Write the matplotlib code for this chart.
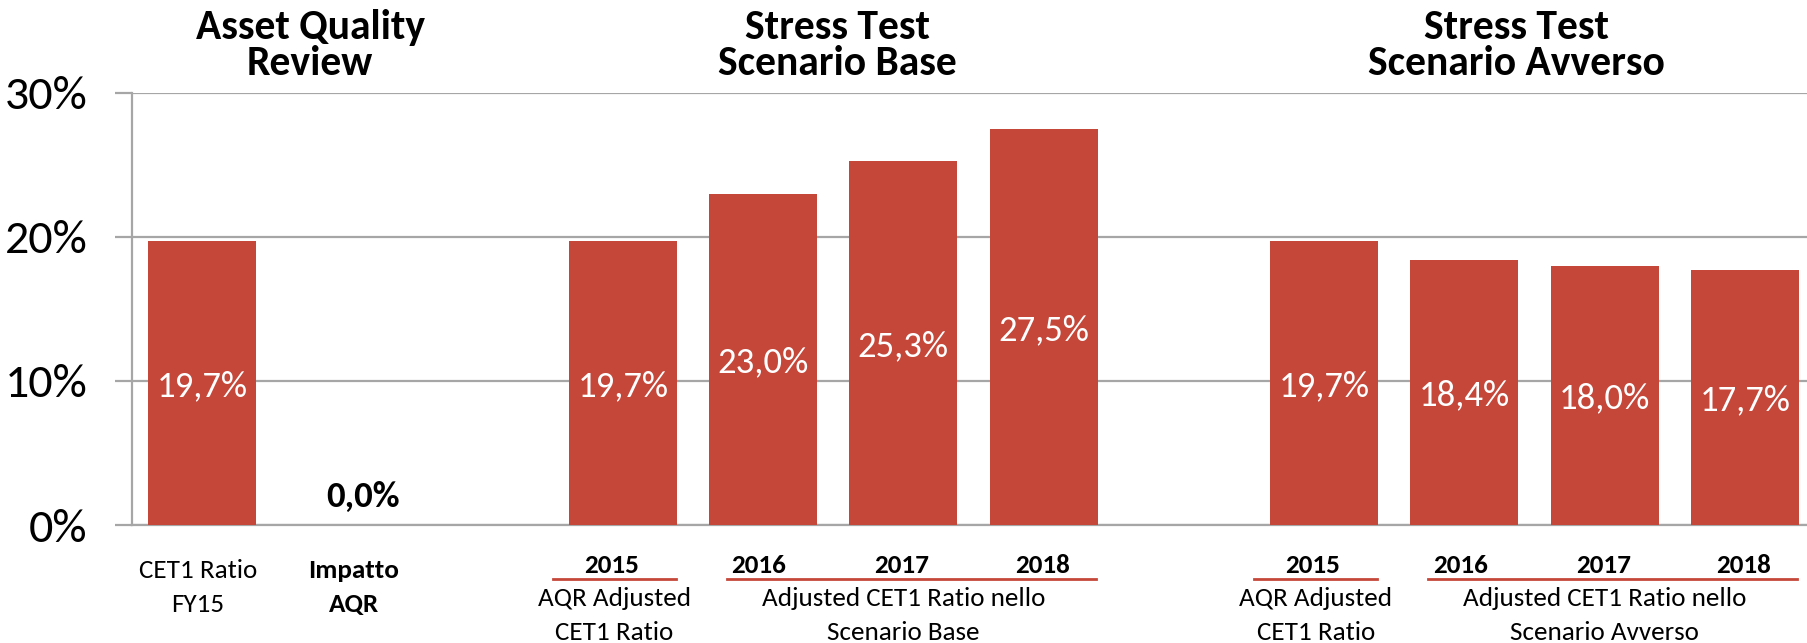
import matplotlib
matplotlib.use("Agg")
import matplotlib.pyplot as plt
import numpy as np

plt.rcParams['font.family'] = ['Carlito', 'DejaVu Sans']

### data
group_titles = ["Asset Quality\nReview", "Stress Test\nScenario Base", "Stress Test\nScenario Avverso"]
aqr_labels = ["CET1 Ratio\nFY15", "Impatto\nAQR"]
aqr_vals = [19.7, 0.0]
years = ["2015", "2016", "2017", "2018"]
base_vals = [19.7, 23.0, 25.3, 27.5]
avv_vals = [19.7, 18.4, 18.0, 17.7]
first_sub = "AQR Adjusted\nCET1 Ratio"
rest_sub = ["Adjusted CET1 Ratio nello\nScenario Base", "Adjusted CET1 Ratio nello\nScenario Avverso"]
yticks = [0, 10, 20, 30]

red = "#C5473A"
grey = "#A6A6A6"

### slot positions (one empty slot between groups)
x_aqr = np.arange(len(aqr_vals))
x_base = np.arange(len(base_vals)) + x_aqr[-1] + 2
x_avv = np.arange(len(avv_vals)) + x_base[-1] + 2

fig = plt.figure(figsize=(18.08, 6.43), dpi=100)
ax = fig.add_axes([0.073, 0.1835, 0.927, 0.672])

def fmt(v):
    return ("%.1f%%" % v).replace(".", ",")

for xs, vs in [(x_aqr, aqr_vals), (x_base, base_vals), (x_avv, avv_vals)]:
    ax.bar(xs, vs, width=0.77, color=red, zorder=3)
    for x, v in zip(xs, vs):
        if v > 0:
            ax.text(x, v / 2, fmt(v), ha="center", va="center_baseline", color="white",
                    fontsize=26.5, zorder=4)
        else:
            ax.text(x + 0.15, 1.25, fmt(v), ha="center", va="baseline", color="black",
                    fontsize=26.5, fontweight="bold", zorder=4)

ax.set_xlim(-0.5, 11.45)
ax.set_ylim(0, 30)
ax.set_yticks(yticks)
ax.set_yticklabels([str(t) + "%" for t in yticks], fontsize=34.5)
ax.set_xticks([])
ax.grid(axis="y", color=grey, linewidth=1.6, zorder=0)
ax.tick_params(axis="y", length=12, width=1.6, color=grey, pad=20)
for s in ["top", "right"]:
    ax.spines[s].set_visible(False)
for s in ["left", "bottom"]:
    ax.spines[s].set_color(grey)
    ax.spines[s].set_linewidth(1.6)

tr = ax.get_xaxis_transform()

### group titles
title_x = [x_aqr.mean() + 0.27, x_base.mean() + 0.03, x_avv.mean() - 0.13]
for tx, t in zip(title_x, group_titles):
    ax.text(tx, 1.042, t, transform=tr, ha="center", va="baseline", fontsize=30,
            fontweight="bold", linespacing=0.95)

### bottom labels, AQR group
ax.text(x_aqr[0] - 0.03, -0.201, aqr_labels[0], transform=tr, ha="center", va="baseline",
        fontsize=19.5, linespacing=1.55)
ax.text(x_aqr[1] + 0.08, -0.201, aqr_labels[1], transform=tr, ha="center", va="baseline",
        fontsize=19.5, fontweight="bold", linespacing=1.55)

### bottom labels, stress groups
year_dx = [-0.08, -0.03, -0.01, -0.01]
for xs, sub in [(x_base, rest_sub[0]), (x_avv, rest_sub[1])]:
    for x, y, dx in zip(xs, years, year_dx):
        ax.text(x + dx, -0.111, y, transform=tr, ha="center", va="baseline",
                fontsize=19.5, fontweight="bold")
    ax.plot([xs[0] - 0.5, xs[0] + 0.38], [-0.125, -0.125], transform=tr, color=red,
            linewidth=2, clip_on=False)
    ax.plot([xs[1] - 0.26, xs[-1] + 0.37], [-0.125, -0.125], transform=tr, color=red,
            linewidth=2, clip_on=False)
    ax.text(xs[0] - 0.06, -0.266, first_sub, transform=tr, ha="center", va="baseline",
            fontsize=19.5, linespacing=1.55)
    ax.text((xs[1] + xs[-1]) / 2, -0.266, sub, transform=tr, ha="center", va="baseline",
            fontsize=19.5, linespacing=1.55)

plt.savefig("out.png", dpi=100)
plt.close()
